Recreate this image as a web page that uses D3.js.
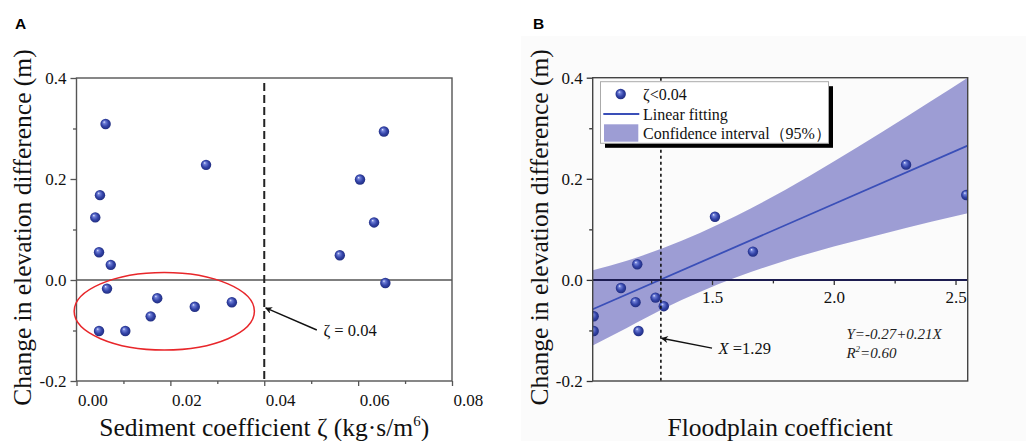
<!DOCTYPE html>
<html>
<head>
<meta charset="utf-8">
<script src="https://cdn.jsdelivr.net/npm/d3@7"></script>
<style>
  body { margin: 0; background: #ffffff; }
  svg text { font-family: "Liberation Serif", "Times New Roman", serif; }
</style>
</head>
<body>
<script>
// ---------- DATA ----------
// Panel A: sediment coefficient vs change in elevation difference
const zetaA = [0.0062, 0.0050, 0.0040, 0.0048, 0.0073, 0.0065, 0.0048, 0.0104, 0.0158, 0.0172, 0.0252, 0.0331, 0.0276,
               0.0561, 0.0604, 0.0634, 0.0655, 0.0658];
const dzA   = [0.309, 0.168, 0.124, 0.055, 0.030, -0.017, -0.101, -0.101, -0.072, -0.036, -0.053, -0.044, 0.228,
               0.049, 0.199, 0.114, 0.294, -0.006];
// Panel B: floodplain coefficient vs change (points with zeta<0.04)
const fpB = [2.297, 2.544, 1.512, 1.668, 1.193, 1.126, 1.186, 1.268, 1.302, 1.014, 1.014, 1.198];
const dzB = [0.228, 0.168, 0.125, 0.056, 0.031, -0.016, -0.044, -0.035, -0.052, -0.072, -0.101, -0.101];
// Linear fit (Y = -0.27 + 0.21X) end points
const fitX = [1.01, 2.55];
const fitY = [-0.058, 0.2655];
// 95% confidence band
const bandX     = [1.01, 1.15, 1.30, 1.45, 1.60, 1.80, 2.00, 2.20, 2.40, 2.55];
const bandUpper = [0.019, 0.038, 0.063, 0.093, 0.127, 0.178, 0.234, 0.293, 0.354, 0.400];
const bandLower = [-0.130, -0.095, -0.057, -0.024, 0.005, 0.038, 0.066, 0.091, 0.115, 0.132];
// Ticks
const yTicks = [-0.2, 0.0, 0.2, 0.4];
const yMinor = [-0.1, 0.1, 0.3];
const xTicksA = [0.00, 0.02, 0.04, 0.06, 0.08];
const xMinorA = [0.01, 0.03, 0.05, 0.07];
const xTicksB = [1.5, 2.0, 2.5];
const xMinorB = [1.25, 1.75, 2.25];
// Thresholds / annotations
const zetaThreshold = 0.04;
const xThreshold = 1.29;
const ellipseA = { cx: 0.0187, cy: -0.062, hw: 0.0192, hh: 0.0767 };

// ---------- SETUP ----------
const W = 1026, H = 441;
const SERIF = "'Liberation Serif', 'Times New Roman', serif";
const svg = d3.select("body").append("svg").attr("width", W).attr("height", H);
const defs = svg.append("defs");
const grad = defs.append("radialGradient").attr("id", "ball")
  .attr("cx", "50%").attr("cy", "50%").attr("r", "55%").attr("fx", "35%").attr("fy", "30%");
grad.append("stop").attr("offset", "0%").attr("stop-color", "#e6eaff");
grad.append("stop").attr("offset", "22%").attr("stop-color", "#7080d8");
grad.append("stop").attr("offset", "60%").attr("stop-color", "#3444a8");
grad.append("stop").attr("offset", "100%").attr("stop-color", "#1c2878");
const arrowDef = defs.append("marker").attr("id", "arrow").attr("viewBox", "0 0 10 10")
  .attr("refX", 9).attr("refY", 5).attr("markerWidth", 9).attr("markerHeight", 7)
  .attr("markerUnits", "userSpaceOnUse").attr("orient", "auto");
arrowDef.append("path").attr("d", "M0,0 L10,5 L0,10 L3,5 Z").attr("fill", "#111");

const fmtY = d => d3.format(".1f")(d).replace("−", "-");
const frameColor = "#555";

// ---------- PANEL A ----------
const xA = d3.scaleLinear().domain([0, 0.08]).range([76.5, 452]);
const yA = d3.scaleLinear().domain([-0.2, 0.4]).range([381, 78]);

svg.append("text").attr("x", 15).attr("y", 29).text("A")
  .style("font-family", "'Liberation Sans', Arial, sans-serif").style("font-weight", "bold").style("font-size", "15.5px");

const gA = svg.append("g");
gA.append("g").attr("transform", `translate(${xA.range()[0]},0)`)
  .call(d3.axisLeft(yA).tickValues(yTicks).tickFormat(fmtY).tickSize(6).tickPadding(4));
gA.append("g").attr("transform", `translate(${xA.range()[0]},0)`)
  .call(d3.axisLeft(yA).tickValues(yMinor).tickFormat("").tickSize(3.5));
const xAxA = gA.append("g").attr("transform", `translate(0,${yA.range()[0]})`)
  .call(d3.axisBottom(xA).tickValues(xTicksA).tickFormat(d3.format(".2f")).tickSize(5).tickPadding(8));
gA.append("g").attr("transform", `translate(0,${yA.range()[0]})`)
  .call(d3.axisBottom(xA).tickValues(xMinorA).tickFormat("").tickSize(3));
xAxA.selectAll("text").attr("text-anchor", "start").attr("dx", 1);
gA.selectAll("g").attr("font-family", null);
gA.selectAll(".domain").remove();
gA.selectAll(".tick line").attr("stroke", frameColor).attr("stroke-width", 1.3);
gA.selectAll(".tick text").style("font-family", SERIF).style("font-size", "17px").attr("fill", "#111");

gA.append("rect").attr("x", xA.range()[0]).attr("y", yA.range()[1])
  .attr("width", xA.range()[1] - xA.range()[0]).attr("height", yA.range()[0] - yA.range()[1])
  .attr("fill", "none").attr("stroke", frameColor).attr("stroke-width", 1.4);
gA.append("line").attr("x1", xA.range()[0]).attr("x2", xA.range()[1])
  .attr("y1", yA(0)).attr("y2", yA(0)).attr("stroke", frameColor).attr("stroke-width", 1.6);
gA.append("line").attr("x1", xA(zetaThreshold)).attr("x2", xA(zetaThreshold))
  .attr("y1", yA(0.39)).attr("y2", yA(-0.2))
  .attr("stroke", "#222").attr("stroke-width", 2).attr("stroke-dasharray", "8,4");
gA.append("ellipse").attr("cx", xA(ellipseA.cx)).attr("cy", yA(ellipseA.cy))
  .attr("rx", xA(ellipseA.cx + ellipseA.hw) - xA(ellipseA.cx))
  .attr("ry", yA(ellipseA.cy - ellipseA.hh) - yA(ellipseA.cy))
  .attr("fill", "none").attr("stroke", "#e8262a").attr("stroke-width", 1.5);
gA.selectAll("circle.pt").data(zetaA.map((z, i) => [z, dzA[i]])).enter().append("circle")
  .attr("class", "pt").attr("cx", d => xA(d[0])).attr("cy", d => yA(d[1])).attr("r", 5.2)
  .attr("fill", "url(#ball)");
gA.append("line").attr("x1", xA(0.0512)).attr("y1", yA(-0.099))
  .attr("x2", xA(0.0403)).attr("y2", yA(-0.0554))
  .attr("stroke", "#111").attr("stroke-width", 1.4).attr("marker-end", "url(#arrow)");
gA.append("text").attr("x", xA(0.0526)).attr("y", yA(-0.11)).style("font-family", SERIF)
  .style("font-size", "16.5px").attr("fill", "#111").text("ζ = 0.04");

svg.append("text").attr("transform", `translate(31,${(yA.range()[0] + yA.range()[1]) / 2 - 2}) rotate(-90)`)
  .attr("text-anchor", "middle").style("font-family", SERIF).style("font-size", "25.5px").attr("fill", "#111")
  .text("Change in elevation difference (m)");
const xtA = svg.append("text").attr("x", (xA.range()[0] + xA.range()[1]) / 2).attr("y", 436)
  .attr("text-anchor", "middle").style("font-family", SERIF).style("font-size", "25.5px").attr("fill", "#111");
xtA.append("tspan").text("Sediment coefficient ζ (kg·s/m");
xtA.append("tspan").attr("dy", -10).style("font-size", "15px").text("6");
xtA.append("tspan").attr("dy", 10).text(")");

// ---------- PANEL B ----------
svg.append("rect").attr("x", 521).attr("y", 36).attr("width", W - 521).attr("height", H - 36).attr("fill", "#fbfbfb");
svg.append("text").attr("x", 533).attr("y", 29).text("B")
  .style("font-family", "'Liberation Sans', Arial, sans-serif").style("font-weight", "bold").style("font-size", "15.5px");

const xB = d3.scaleLinear().domain([1.01, 2.55]).range([592.7, 967.7]);
const yB = d3.scaleLinear().domain([-0.2, 0.4]).range([381, 77.7]);
const gB = svg.append("g");
defs.append("clipPath").attr("id", "clipB").append("rect")
  .attr("x", xB.range()[0]).attr("y", yB.range()[1])
  .attr("width", xB.range()[1] - xB.range()[0]).attr("height", yB.range()[0] - yB.range()[1]);
const plotB = gB.append("g").attr("clip-path", "url(#clipB)");

const bandData = bandX.map((x, i) => ({ x, lo: bandLower[i], hi: bandUpper[i] }));
plotB.append("path").datum(bandData)
  .attr("d", d3.area().x(d => xB(d.x)).y0(d => yB(d.lo)).y1(d => yB(d.hi)).curve(d3.curveMonotoneX))
  .attr("fill", "#9d9dd4");
gB.append("g").attr("transform", `translate(0,${yB(0)})`)
  .call(d3.axisBottom(xB).tickValues(xTicksB).tickFormat(d3.format(".1f")).tickSize(5).tickPadding(6));
gB.append("g").attr("transform", `translate(0,${yB(0)})`)
  .call(d3.axisBottom(xB).tickValues(xMinorB).tickFormat("").tickSize(3.5));
gB.append("g").attr("transform", `translate(${xB.range()[0]},0)`)
  .call(d3.axisLeft(yB).tickValues(yTicks).tickFormat(fmtY).tickSize(6).tickPadding(4));
gB.append("g").attr("transform", `translate(${xB.range()[0]},0)`)
  .call(d3.axisLeft(yB).tickValues(yMinor).tickFormat("").tickSize(3.5));
gB.selectAll("g").attr("font-family", null);
gB.selectAll(".domain").remove();
gB.selectAll(".tick line").attr("stroke", "#333").attr("stroke-width", 1.3);
gB.selectAll(".tick text").style("font-family", SERIF).style("font-size", "17px").attr("fill", "#111");
gB.append("line").attr("x1", xB.range()[0]).attr("x2", xB.range()[1])
  .attr("y1", yB(0)).attr("y2", yB(0)).attr("stroke", "#1c1c50").attr("stroke-width", 2);
plotB.append("line").attr("x1", xB(fitX[0])).attr("y1", yB(fitY[0]))
  .attr("x2", xB(fitX[1])).attr("y2", yB(fitY[1]))
  .attr("stroke", "#3a4fb8").attr("stroke-width", 1.8);
plotB.selectAll("circle.pt").data(fpB.map((x, i) => [x, dzB[i]])).enter().append("circle")
  .attr("class", "pt").attr("cx", d => xB(d[0])).attr("cy", d => yB(d[1])).attr("r", 5.2)
  .attr("fill", "url(#ball)");
gB.append("line").attr("x1", xB(xThreshold)).attr("x2", xB(xThreshold))
  .attr("y1", yB(0.4)).attr("y2", yB(-0.2))
  .attr("stroke", "#111").attr("stroke-width", 1.6).attr("stroke-dasharray", "3,3");
gB.append("rect").attr("x", xB.range()[0]).attr("y", yB.range()[1])
  .attr("width", xB.range()[1] - xB.range()[0]).attr("height", yB.range()[0] - yB.range()[1])
  .attr("fill", "none").attr("stroke", "#444").attr("stroke-width", 1.4);

// legend
const lg = gB.append("g");
const lgX = 600.5, lgY = 81.7, lgW = 228, lgH = 61.6;
lg.append("rect").attr("x", lgX + 4.5).attr("y", lgY + 4.5).attr("width", lgW).attr("height", lgH).attr("fill", "#000");
lg.append("rect").attr("x", lgX).attr("y", lgY).attr("width", lgW).attr("height", lgH)
  .attr("fill", "#ffffff").attr("stroke", "#aaa").attr("stroke-width", 1);
lg.append("circle").attr("cx", 620.7).attr("cy", 94).attr("r", 5.2).attr("fill", "url(#ball)");
lg.append("line").attr("x1", 603.3).attr("x2", 639.3).attr("y1", 114).attr("y2", 114)
  .attr("stroke", "#3a4fb8").attr("stroke-width", 1.8);
lg.append("rect").attr("x", 604).attr("y", 124.3).attr("width", 34.3).attr("height", 17.4).attr("fill", "#9d9dd4");
lg.append("text").attr("x", 643).attr("y", 100).style("font-family", SERIF).style("font-size", "16px").attr("fill", "#111").text("ζ<0.04");
lg.append("text").attr("x", 643).attr("y", 119.5).style("font-family", SERIF).style("font-size", "16px").attr("fill", "#111").text("Linear fitting");
lg.append("text").attr("x", 643).attr("y", 138.5).style("font-family", SERIF).style("font-size", "16px").attr("fill", "#111").text("Confidence interval（95%）");

// annotations
gB.append("line").attr("x1", xB(1.5)).attr("y1", yB(-0.135))
  .attr("x2", xB(1.293)).attr("y2", yB(-0.1155))
  .attr("stroke", "#111").attr("stroke-width", 1.4).attr("marker-end", "url(#arrow)");
const xl = gB.append("text").attr("x", xB(1.527)).attr("y", yB(-0.147)).style("font-family", SERIF)
  .style("font-size", "16.5px").attr("fill", "#111");
xl.append("tspan").style("font-style", "italic").text("X");
xl.append("tspan").text(" =1.29");
gB.append("text").attr("x", xB(2.052)).attr("y", yB(-0.117)).style("font-family", SERIF).style("font-size", "15px")
  .style("font-style", "italic").attr("fill", "#222").text("Y=-0.27+0.21X");
const r2 = gB.append("text").attr("x", xB(2.052)).attr("y", yB(-0.1545)).style("font-family", SERIF).style("font-size", "15px")
  .style("font-style", "italic").attr("fill", "#222");
r2.append("tspan").text("R");
r2.append("tspan").attr("dy", -6).style("font-size", "9px").text("2");
r2.append("tspan").attr("dy", 6).text("=0.60");

svg.append("text").attr("transform", `translate(548,${(yB.range()[0] + yB.range()[1]) / 2 - 2}) rotate(-90)`)
  .attr("text-anchor", "middle").style("font-family", SERIF).style("font-size", "25.5px").attr("fill", "#111")
  .text("Change in elevation difference (m)");
svg.append("text").attr("x", (xB.range()[0] + xB.range()[1]) / 2).attr("y", 436)
  .attr("text-anchor", "middle").style("font-family", SERIF).style("font-size", "25.5px").attr("fill", "#111")
  .text("Floodplain coefficient");
</script>
</body>
</html>
